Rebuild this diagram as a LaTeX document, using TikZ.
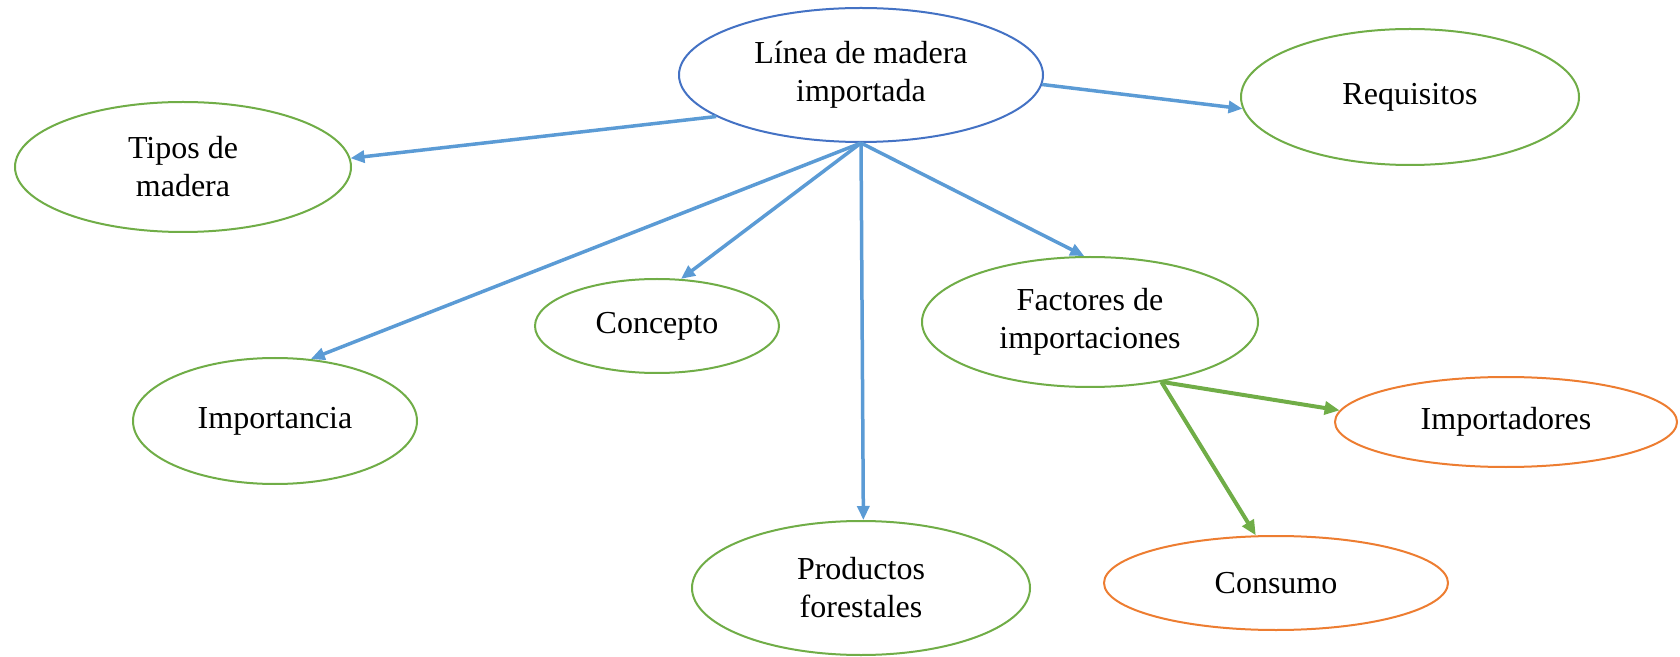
\documentclass[tikz,border=0pt]{standalone}
\usepackage{fontspec}
\setmainfont{Liberation Serif}
\usepackage{tikz}
\usetikzlibrary{arrows.meta,shapes.geometric}

\definecolor{mainblue}{HTML}{4472C4}
\definecolor{edgeblue}{HTML}{5B9BD5}
\definecolor{leafgreen}{HTML}{70AD47}
\definecolor{leaforange}{HTML}{ED7D31}

\begin{document}
\begin{tikzpicture}[x=0.5pt,y=-0.5pt,
                    font=\fontsize{16}{19}\selectfont]
  \tikzstyle{every node}=[ellipse,draw,line width=1pt,inner sep=0pt,align=center,fill=white]
  \tikzstyle{topic}=[draw=leafgreen]
  \tikzstyle{sub}=[draw=leaforange]
  \tikzstyle{blue edge}=[-{Triangle[length=7pt,width=6pt]},draw=edgeblue,fill=edgeblue,line width=1.75pt]
  \tikzstyle{green edge}=[-{Triangle[length=7.5pt,width=6.5pt]},draw=leafgreen,fill=leafgreen,line width=2pt]

  \useasboundingbox (0,0) rectangle (1680,657);

  \node[draw=mainblue,minimum width=182pt,minimum height=67pt] (L) at (861,75) {Línea de madera\\importada};
  \node[topic,minimum width=168pt,minimum height=65pt] (T) at (183,167) {Tipos de\\madera};
  \node[topic,minimum width=169pt,minimum height=68pt] (R) at (1410,97) {Requisitos};
  \node[topic,minimum width=122pt,minimum height=47pt] (C) at (657,326) {Concepto};
  \node[topic,minimum width=168pt,minimum height=65pt] (F) at (1090,322) {Factores de\\importaciones};
  \node[topic,minimum width=142pt,minimum height=63pt] (I) at (275,421) {Importancia};
  \node[topic,minimum width=169pt,minimum height=67pt] (P) at (861,588) {Productos\\forestales};
  \node[sub,minimum width=171pt,minimum height=45pt] (M) at (1506,422) {Importadores};
  \node[sub,minimum width=172pt,minimum height=47pt] (N) at (1276,583) {Consumo};

  \draw[blue edge] (L.196) -- (T.3);
  \draw[blue edge] (L.-3) -- (R.184);
  \draw[blue edge] (L.south) -- (I.60);
  \draw[blue edge] (L.south) -- (C.63);
  \draw[blue edge] (L.south) -- (P.88);
  \draw[blue edge] (L.south) -- (F.95);
  \draw[green edge] (F.-40) -- (M.176);
  \draw[green edge] (F.-40) -- (N.113);
\end{tikzpicture}
\end{document}
